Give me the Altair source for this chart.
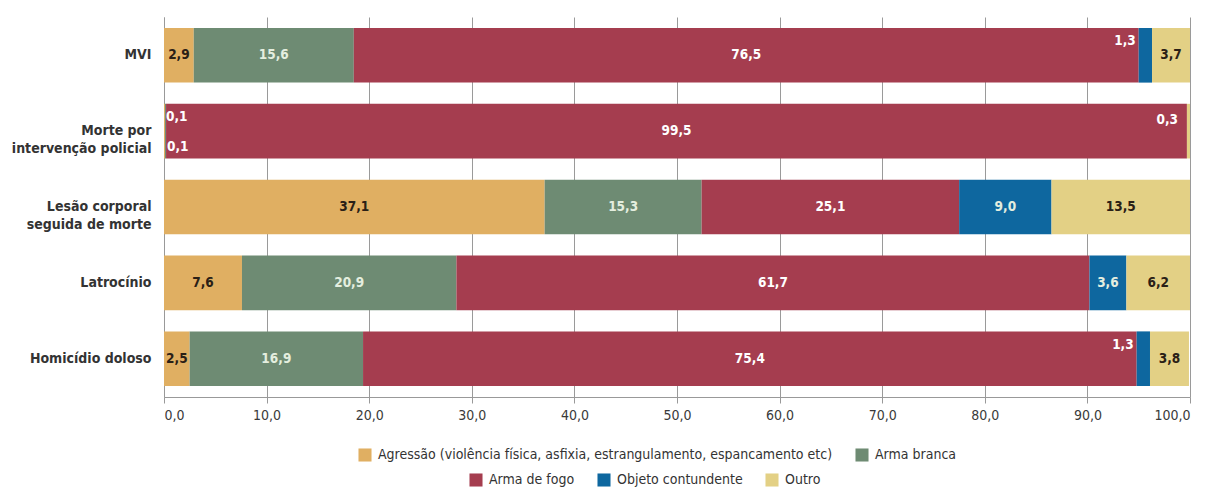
import altair as alt
import pandas as pd

categorias = ["MVI", "Morte por|intervenção policial", "Lesão corporal|seguida de morte",
              "Latrocínio", "Homicídio doloso"]
tipos = ["Agressão (violência física, asfixia, estrangulamento, espancamento etc)",
         "Arma branca", "Arma de fogo", "Objeto contundente", "Outro"]
cores = ["#E0AF62", "#6E8B73", "#A53D4F", "#0E679F", "#E3D085"]

agressao = [2.9, 0.1, 37.1, 7.6, 2.5]
arma_branca = [15.6, 0.1, 15.3, 20.9, 16.9]
arma_fogo = [76.5, 99.5, 25.1, 61.7, 75.4]
objeto = [1.3, 0.0, 9.0, 3.6, 1.3]
outro = [3.7, 0.3, 13.5, 6.2, 3.8]

series = [agressao, arma_branca, arma_fogo, objeto, outro]
rows = []
for ti, (t, vals) in enumerate(zip(tipos, series)):
    for c, v in zip(categorias, vals):
        rows.append({"cat": c, "tipo": t, "ordem": ti, "valor": v})
df = pd.DataFrame(rows)

FONT = "DejaVu Sans Condensed, Roboto Condensed, Roboto"

base = alt.Chart(df).transform_stack(
    stack="valor", groupby=["cat"], sort=[alt.SortField("ordem")], as_=["x0", "x1"]
).transform_calculate(
    mid="(datum.x0 + datum.x1) / 2",
    lab="replace(format(datum.valor, '.1f'), '.', ',')",
    tc="(datum.ordem == 0 || datum.ordem == 4) ? '#2a2016' : (datum.ordem == 2 ? '#ffffff' : '#e4eedf')",
)

yenc = alt.Y("cat:N", sort=categorias, title=None,
             scale=alt.Scale(paddingInner=0.28, paddingOuter=0.145),
             axis=alt.Axis(labelExpr="split(datum.label, '|')", labelFontSize=14,
                           labelFontWeight="bold", labelColor="#333333", labelPadding=13,
                           ticks=False, domain=True, domainColor="#999999", labelFont=FONT,
                           labelLineHeight=18))
xscale = alt.Scale(domain=[0, 100], nice=False)
xaxis = alt.Axis(values=list(range(0, 101, 10)), labelExpr="replace(format(datum.value, '.1f'), '.', ',')",
                 grid=True, gridColor="#9a9a9a", gridWidth=1, domainColor="#999999",
                 tickColor="#999999", tickSize=6, labelFontSize=14, labelColor="#3a3a3a",
                 labelPadding=5, labelFont=FONT, title=None)

leg_common = dict(orient="none", direction="horizontal", title=None, symbolType="square",
                  symbolSize=170, symbolStrokeWidth=0, labelFontSize=14, labelFont=FONT,
                  labelColor="#333333", padding=0, labelLimit=600, labelOffset=6)

bars1 = base.transform_filter("datum.ordem <= 1").mark_bar().encode(
    y=yenc,
    x=alt.X("x0:Q", scale=xscale, axis=xaxis),
    x2="x1:Q",
    color=alt.Color("tipo:N", scale=alt.Scale(domain=tipos[:2], range=cores[:2]),
                    legend=alt.Legend(legendX=194, legendY=431, columnPadding=22, **leg_common)),
)
bars2 = base.transform_filter("datum.ordem >= 2").mark_bar().encode(
    y=alt.Y("cat:N", sort=categorias),
    x=alt.X("x0:Q", scale=xscale),
    x2="x1:Q",
    color=alt.Color("tipo:N", scale=alt.Scale(domain=tipos[2:], range=cores[2:]),
                    legend=alt.Legend(legendX=305, legendY=456, columnPadding=22, **leg_common)),
)

txt_common = dict(font=FONT, fontSize=13.5, fontWeight="bold")

center = base.transform_filter("datum.valor >= 2").mark_text(baseline="middle", **txt_common).encode(
    y=alt.Y("cat:N", sort=categorias), x="mid:Q", text="lab:N", color=alt.Color("tc:N", scale=None))

small_obj = base.transform_filter("datum.valor > 0 && datum.valor < 2 && datum.ordem == 3").mark_text(
    align="right", baseline="middle", dx=-3, dy=-14, color="white", **txt_common).encode(
    y=alt.Y("cat:N", sort=categorias), x="x0:Q", text="lab:N")
small_agr = base.transform_filter("datum.valor < 2 && datum.ordem == 0").mark_text(
    align="left", baseline="middle", dx=2, dy=-14, color="white", **txt_common).encode(
    y=alt.Y("cat:N", sort=categorias), x="x0:Q", text="lab:N")
small_br = base.transform_filter("datum.valor < 2 && datum.ordem == 1").mark_text(
    align="left", baseline="middle", dx=2, dy=16, color="white", **txt_common).encode(
    y=alt.Y("cat:N", sort=categorias), x="x0:Q", text="lab:N")
small_out = base.transform_filter("datum.valor < 2 && datum.ordem == 4").mark_text(
    align="right", baseline="middle", dx=-12, dy=-11, color="white", **txt_common).encode(
    y=alt.Y("cat:N", sort=categorias), x="x1:Q", text="lab:N")

chart = alt.layer(bars1, bars2, center, small_obj, small_agr, small_br, small_out).resolve_scale(
    color="independent"
).properties(
    width=1026, height=380,
    autosize=alt.AutoSizeParams(type="none"),
    padding={"left": 156, "top": 9, "right": 5, "bottom": 96},
).configure_view(stroke=None)

chart.save("out.html", embed_options={"renderer": "svg", "actions": False})
